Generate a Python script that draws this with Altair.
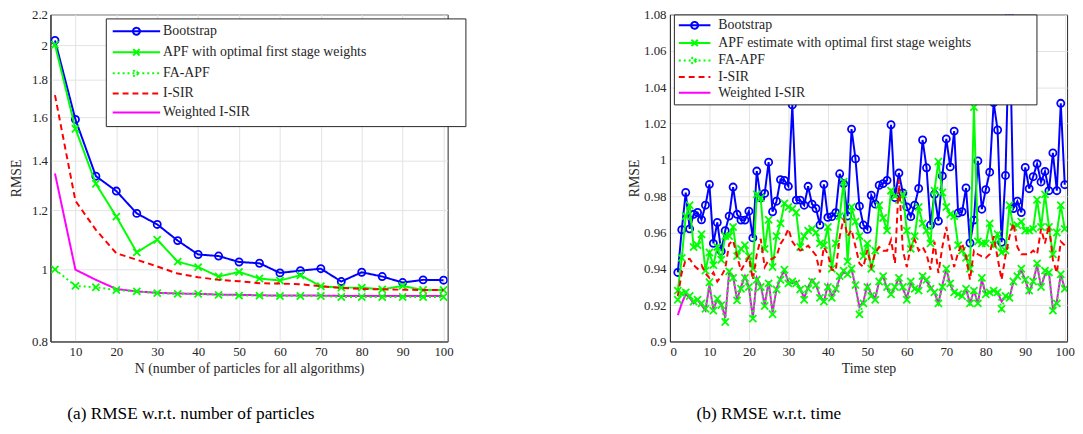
import altair as alt
import pandas as pd

FONT = "Liberation Serif"
TXT = "#262626"

# ---------------- Panel (a): RMSE vs number of particles ----------------
N_PART = [5, 10, 15, 20, 25, 30, 35, 40, 45, 50, 55, 60, 65, 70, 75, 80, 85, 90, 95, 100]
A_BOOT = [2.03, 1.59, 1.334, 1.274, 1.189, 1.149, 1.093, 1.047, 1.042, 1.023,
          1.019, 0.989, 0.996, 1.002, 0.963, 0.991, 0.978, 0.960, 0.968, 0.967]
A_APF = [2.003, 1.545, 1.303, 1.177, 1.054, 1.096, 1.024, 1.007, 0.978, 0.992,
         0.972, 0.966, 0.982, 0.949, 0.945, 0.945, 0.940, 0.950, 0.938, 0.938]
A_FA = [1.0, 0.950, 0.946, 0.938, 0.934, 0.929, 0.927, 0.927, 0.924, 0.922,
        0.922, 0.921, 0.921, 0.921, 0.918, 0.918, 0.918, 0.918, 0.918, 0.918]
A_ISIR = [1.714, 1.236, 1.13, 1.051, 1.03, 1.009, 0.987, 0.976, 0.968, 0.964,
          0.958, 0.957, 0.955, 0.949, 0.944, 0.941, 0.940, 0.939, 0.938, 0.938]
A_WISIR = [1.345, 0.999, 0.968, 0.941, 0.934, 0.930, 0.928, 0.927, 0.925, 0.924,
           0.923, 0.922, 0.922, 0.922, 0.921, 0.921, 0.921, 0.921, 0.921, 0.921]

# ---------------- Panel (b): RMSE vs time ----------------
T_STEP = list(range(2, 101))
B_BOOT = [.938, .9615, .982, .962, .970, .971, .967, .975, .9865, .954,
          .9655, .9497, .961, .969, .985, .970, .9668, .9668, .9717, .957,
          .9938, .979, .9815, .9987, .9714, .9772, .9891, .9887, .9854, 1.0302,
          .9778, .9778, .975, .9854, .9756, .9732, .9641, .9865, .9683, .9687,
          .9709, .9923, .9869, .969, 1.0169, 1.0005, .9745, .9641, .9617, .9805,
          .9756, .986, .9869, .9887, 1.0193, .9792, .9927, .9818, .9741, .9687,
          .975, .9842, 1.0109, .9956, .9641, .981, .9663, .9911, 1.0115, .9961,
          1.0158, .9707, .9714, .9845, .9542, .9668, .9994, .9728, .9836, .9932,
          1.0315, 1.0164, .9546, .9914, 1.081, .9732, .9772, .971, .9958, .9841,
          .9907, .9978, .9878, .9936, .983, 1.0038, .983, 1.0311, .9863]
B_APF = [.928, .946, .969, .975, .952, .953, .959, .939, .949, .942,
         .952, .945, .958, .958, .963, .947, .951, .953, .947, .940,
         .981, .979, .951, .967, .941, .958, .965, .976, .974, .973,
         .971, .952, .958, .961, .962, .960, .954, .953, .963, .940,
         .954, .969, .988, .944, .974, .966, .958, .947, .954, .940,
         .950, .975, .968, .961, .983, .980, .978, .981, .961, .951,
         .958, .974, .965, .961, .954, .983, .999, .982, .974, .970,
         .969, .953, .950, .946, .940, 1.029, .955, .954, .954, .965,
         .953, .959, .949, .950, .975, .963, .964, .966, .961, .961,
         .962, .978, .963, .981, .963, .948, .960, .975, .962]
B_FA = [.923, .9265, .927, .925, .922, .923, .921, .918, .9326, .917,
        .9235, .920, .9107, .9386, .935, .9226, .929, .935, .930, .9126,
        .934, .930, .9195, .932, .915, .9286, .934, .9395, .932, .933,
        .932, .9286, .923, .929, .933, .931, .924, .922, .930, .924,
        .929, .936, .939, .937, .940, .931, .9149, .921, .930, .925,
        .923, .933, .936, .930, .926, .930, .935, .930, .923, .933,
        .929, .928, .936, .934, .929, .927, .921, .930, .940, .932,
        .927, .926, .925, .929, .921, .928, .921, .935, .926, .927,
        .928, .927, .918, .925, .924, .933, .936, .940, .934, .928,
        .933, .943, .930, .939, .938, .917, .921, .937, .929]
B_WISIR = [.9145, .921, .926, .924, .921, .923, .920, .917, .931, .918,
           .923, .921, .913, .938, .936, .923, .930, .936, .930, .913,
           .935, .931, .920, .933, .916, .929, .935, .939, .933, .932,
           .933, .929, .924, .930, .934, .931, .925, .922, .931, .925,
           .928, .935, .938, .937, .940, .930, .919, .922, .931, .926,
           .924, .933, .936, .929, .926, .930, .935, .929, .924, .932,
           .929, .928, .936, .933, .930, .927, .921, .931, .940, .931,
           .927, .926, .925, .929, .921, .928, .921, .934, .926, .927,
           .928, .927, .922, .925, .924, .933, .936, .939, .934, .927,
           .933, .942, .930, .937, .938, .918, .922, .937, .929]
B_ISIR = [.925, .938, .945, .9455, .942, .940, .942, .9375, .935, .938,
          .933, .936, .940, .9537, .9556, .947, .939, .943, .9465, .934,
          .948, .9565, .941, .9447, .9456, .947, .9537, .957, .962, .955,
          .952, .950, .951, .9528, .950, .9474, .938, .952, .948, .9395,
          .939, .9577, .9677, .958, .9614, .9522, .943, .941, .9504, .941,
          .9486, .952, .950, .950, .9559, .943, .989, .950, .941, .952,
          .956, .950, .952, .948, .9395, .955, .9377, .952, .963, .950,
          .941, .949, .954, .947, .934, .950, .948, .9468, .946, .948,
          .958, .946, .934, .947, .9577, .965, .952, .948, .948, .948,
          .950, .948, .962, .954, .964, .945, .9377, .955, .953]

NAMES_A = ["Bootstrap", "APF with optimal first stage weights", "FA-APF", "I-SIR", "Weighted I-SIR"]
NAMES_B = ["Bootstrap", "APF estimate with optimal first stage weights", "FA-APF", "I-SIR", "Weighted I-SIR"]
COLORS = ["#0000ff", "#00ff00", "#00ff00", "#ff0000", "#ff00ff"]
DASHES = [[1, 0], [1, 0], [2, 3], [6, 4], [1, 0]]
CROSS = "M-1,-1L1,1M-1,1L1,-1"
MARKERS = ["circle", CROSS, CROSS, None, None]
DRAW_ORDER = [0, 1, 3, 4, 2]


def make_df(xs, names, series, key):
    rows = []
    for name, vals in zip(names, series):
        for x, v in zip(xs, vals):
            rows.append({"x": x, "y": v, key: name})
    return pd.DataFrame(rows)


def legend_symbols(half_units, c_units):
    x0, x1 = -1.0, 2 * half_units - 1.0
    xm = (x0 + x1) / 2
    line = f"M{x0},0L{x1},0"
    r = c_units
    circ = (f"{line}M{xm - r:.3f},0A{r:.3f},{r:.3f} 0 1,1 {xm + r:.3f},0"
            f"A{r:.3f},{r:.3f} 0 1,1 {xm - r:.3f},0")
    cr = c_units * 0.92
    cross = (f"{line}M{xm - cr:.3f},{-cr:.3f}L{xm + cr:.3f},{cr:.3f}"
             f"M{xm - cr:.3f},{cr:.3f}L{xm + cr:.3f},{-cr:.3f}")
    return [circ, cross, cross, line, line]


def panel(df, key, names, xscale, xaxis, yscale, yaxis, syms, leg_kw, w, h, caption, cap_dx):
    layers = []
    for i in DRAW_ORDER:
        name = names[i]
        base = alt.Chart(df).transform_filter(alt.datum[key] == name)
        enc = dict(x=alt.X("x:Q", scale=xscale, axis=xaxis),
                   y=alt.Y("y:Q", scale=yscale, axis=yaxis))
        layers.append(base.mark_line(color=COLORS[i], strokeWidth=2,
                                     strokeDash=DASHES[i], clip=True).encode(**enc))
        if MARKERS[i]:
            layers.append(base.mark_point(shape=MARKERS[i], size=52, filled=False,
                                          color=COLORS[i], strokeWidth=1.8, opacity=1,
                                          clip=True).encode(**enc))
    fld = f"{key}:N"
    leg = alt.Chart(df).transform_filter("false").mark_point(
        filled=False, opacity=1, strokeWidth=2).encode(
        color=alt.Color(fld, scale=alt.Scale(domain=names, range=COLORS),
                        legend=alt.Legend(**leg_kw)),
        shape=alt.Shape(fld, scale=alt.Scale(domain=names, range=syms),
                        legend=alt.Legend(**leg_kw)),
        strokeDash=alt.StrokeDash(fld, scale=alt.Scale(domain=names, range=DASHES),
                                  legend=alt.Legend(**leg_kw)),
    )
    layers.append(leg)
    return alt.layer(*layers).properties(
        width=w, height=h,
        title=alt.TitleParams(text=caption, orient="bottom", anchor="start", frame="group",
                              dx=cap_dx, offset=30, font=FONT, fontSize=17.5,
                              fontWeight="normal", color="black"))


def leg_kw(x, y, label_offset, pad, row_pad, long_label, extra):
    return dict(title=None, orient="none", legendX=x, legendY=y,
                symbolSize=144, symbolStrokeWidth=2, symbolOffset=0,
                labelOffset=label_offset, labelFont=FONT, labelFontSize=14,
                labelColor=TXT, labelLimit=600, rowPadding=row_pad, padding=pad,
                strokeColor=TXT, fillColor="white",
                labelExpr=f"datum.label == '{long_label}' ? datum.label + '{extra}' : datum.label")


df_a = make_df(N_PART, NAMES_A, [A_BOOT, A_APF, A_FA, A_ISIR, A_WISIR], "series_a")
df_b = make_df(T_STEP, NAMES_B, [B_BOOT, B_APF, B_FA, B_ISIR, B_WISIR], "series_b")

left = panel(
    df_a, "series_a", NAMES_A,
    alt.Scale(domain=[3.9, 101], nice=False, zero=False),
    alt.Axis(values=list(range(10, 101, 10)), title="N (number of particles for all algorithms)",
             labelPadding=4, titlePadding=3),
    alt.Scale(type="log", domain=[0.8, 2.2], nice=False),
    alt.Axis(values=[0.8, 1.0, 1.2, 1.4, 1.6, 1.8, 2.0, 2.2], format=".1~f", title="RMSE",
             labelPadding=3, titlePadding=8),
    legend_symbols(4.0, 0.583),
    leg_kw(56, 4, 38, 6, 5.3, NAMES_A[1], "\u2003" * 6 + "\u2002\u2009" + "\u200b"),
    402, 331, "(a) RMSE w.r.t. number of particles", 17)

right = panel(
    df_b, "series_b", NAMES_B,
    alt.Scale(domain=[0, 100.6], nice=False, zero=False),
    alt.Axis(values=list(range(0, 101, 10)), title="Time step", labelPadding=4, titlePadding=3),
    alt.Scale(domain=[0.9, 1.08], nice=False, zero=False),
    alt.Axis(values=[0.9 + 0.02 * k for k in range(10)], format=".2~f", title="RMSE",
             labelPadding=4, titlePadding=2),
    legend_symbols(2.667, 0.583),
    leg_kw(4, 0, 27, 4, 1.8, NAMES_B[1], "\u2003" * 4 + "\u2009\u2009" + "\u200b"),
    402, 331, "(b) RMSE w.r.t. time", 27)

chart = alt.hconcat(left, right, spacing=225, bounds="flush").resolve_scale(
    color="independent", shape="independent", strokeDash="independent"
).resolve_legend(
    color="independent", shape="independent", strokeDash="independent"
).properties(
    padding={"left": 1, "top": -3, "right": 0, "bottom": 0}
).configure_view(stroke=TXT, strokeWidth=1).configure_axis(
    labelFont=FONT, titleFont=FONT, labelFontSize=13, titleFontSize=14,
    labelColor=TXT, titleColor=TXT, titleFontWeight="normal",
    gridColor="#e3e3e3", domainColor=TXT, ticks=False
)

chart.save("out.html", embed_options={"renderer": "svg", "actions": False})
